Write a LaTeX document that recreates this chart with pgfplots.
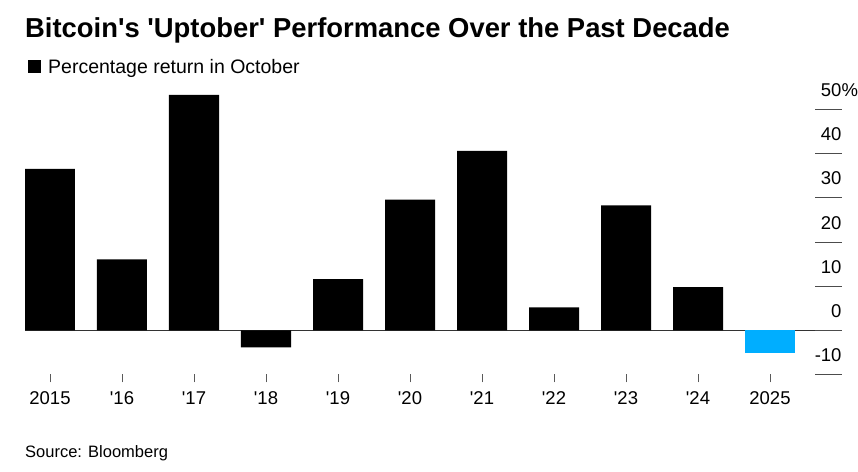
\documentclass[border=0pt]{standalone}
\usepackage{fontspec}
\setmainfont{Liberation Sans}
\usepackage{pgfplots}
\usepackage{pgfplotstable}
\pgfplotsset{compat=1.18}
\definecolor{barblue}{RGB}{0,174,255}
\newcommand{\q}{\textquotesingle}

% October returns, percent
\pgfplotstableread{
x val
0 36.6
1 16.1
2 53.4
3 -3.9
4 11.6
5 29.6
6 40.7
7 5.2
8 28.3
9 9.8
}\blackbars
\pgfplotstableread{
x val
10 -5.2
}\bluebars

\begin{document}
\begin{tikzpicture}
\path[use as bounding box] (0,0) rectangle (858pt,471pt);

\node[anchor=base west, inner sep=0pt, font=\fontsize{27.4}{29}\selectfont\bfseries]
  at (25pt,433.7pt) {Bitcoin\q s \q Uptober\q{} Performance Over the Past Decade};
\node[anchor=base west, inner sep=0pt, font=\fontsize{16.5}{18}\selectfont]
  at (25pt,13.3pt) {Source: Bloomberg};

\begin{axis}[
  at={(25pt,96.6pt)}, anchor=south west,
  scale only axis,
  width=816.7pt, height=286.7pt,
  xmin=-0.3472, xmax=10.996,
  ymin=-10, ymax=55,
  ybar, bar width=50pt, bar shift=0pt,
  axis line style={draw=none},
  xtick={0,...,10},
  xticklabels={2015,\q 16,\q 17,\q 18,\q 19,\q 20,\q 21,\q 22,\q 23,\q 24,2025},
  xtick pos=bottom, xtick align=outside,
  x tick style={black!65, line width=0.8pt, /pgfplots/major tick length=8pt},
  ytick={-10,0,...,50},
  yticklabels={-10,0,10,20,30,40,50\rlap{\%}},
  ytick pos=right, yticklabel pos=right, ytick align=inside,
  y tick style={black!70, line width=1pt, /pgfplots/major tick length=26.7pt},
  tick label style={font=\fontsize{18.5}{20}\selectfont, inner sep=0pt},
  y tick label style={anchor=base east, yshift=13pt},
  x tick label style={anchor=base, yshift=-26pt},
  extra y ticks={0}, extra y tick labels={},
  extra y tick style={grid=major, major grid style={black!80, line width=1pt}},
  legend style={draw=none, fill=none, at={(0,1)}, anchor=south west,
    xshift=3pt, yshift=11pt, inner sep=0pt,
    font=\fontsize{19.5}{21}\selectfont},
  legend cell align=left,
  legend image code/.code={\fill[black] (0pt,-6pt) rectangle (13pt,7pt);},
]
\addplot[fill=black, draw=none] table[x=x, y=val] {\blackbars};
\addlegendentry{\hspace{5pt}Percentage return in October}
\addplot[fill=barblue, draw=none, forget plot] table[x=x, y=val] {\bluebars};
\end{axis}
\end{tikzpicture}
\end{document}
